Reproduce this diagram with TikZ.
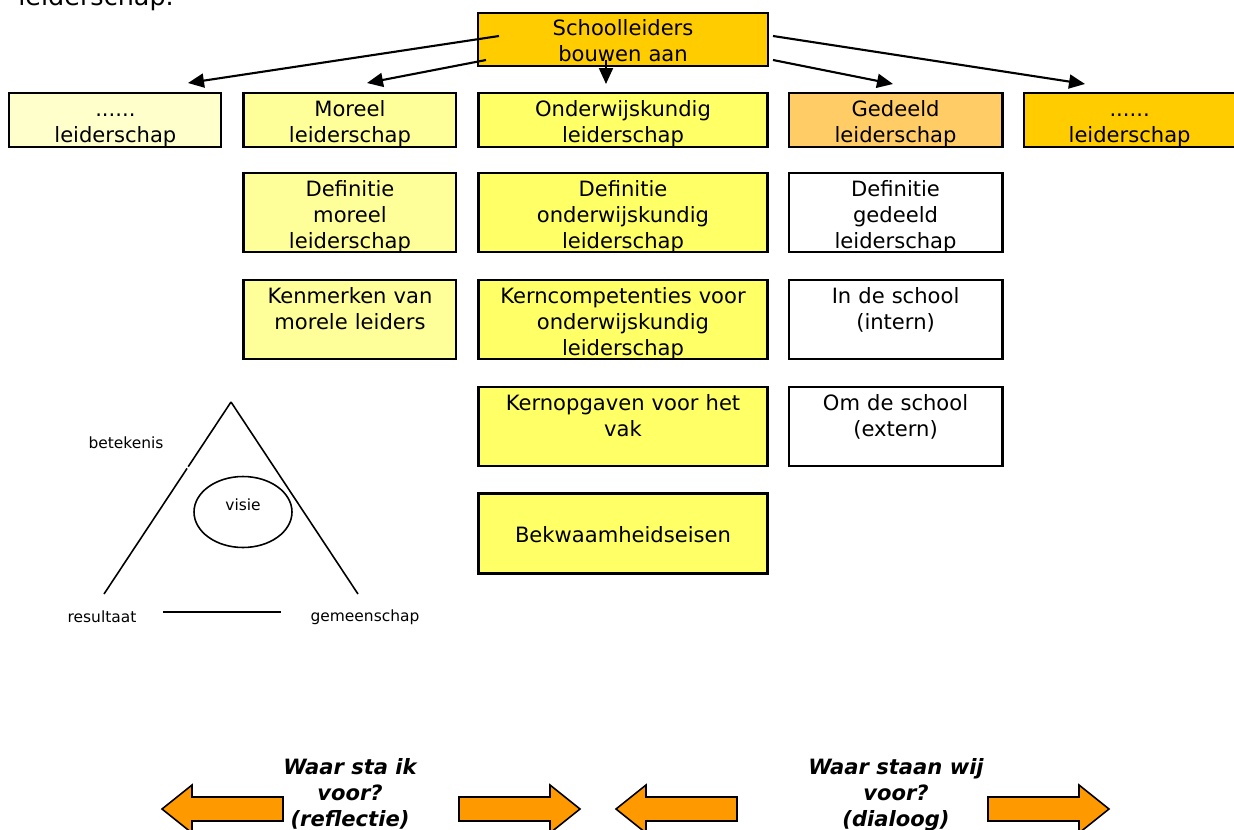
\documentclass[tikz,border=0pt]{standalone}
\usepackage{fontspec}
\setmainfont{DejaVu Sans}
\usepackage{xcolor}
\usepackage{tikz}
\usetikzlibrary{
    positioning,
    arrows.meta,
    calc
}

\definecolor{goud}{HTML}{FFCC00}
\definecolor{lichtgeel}{HTML}{FFFFCC}
\definecolor{zachtgeel}{HTML}{FFFF99}
\definecolor{geel}{HTML}{FFFF66}
\definecolor{perzik}{HTML}{FFCC66}
\definecolor{oranje}{HTML}{FF9900}

\begin{document}
\begin{tikzpicture}[
    x=0.02cm, y=-0.02cm,
    blok/.style={rectangle, draw=black, line width=1.2pt, inner sep=0pt, align=center, font=\fontsize{12}{14.8}\selectfont, text height=0.46cm},
    kop/.style={blok, text depth=0.62cm},
    vak/.style={blok, text depth=1.12cm},
    pijl/.style={-{Triangle[length=0.32cm, width=0.28cm]}, line width=1.2pt},
    dikpijl/.style={draw=black, line width=0.9pt, fill=oranje, line join=miter},
    klein/.style={font=\fontsize{8.8}{10}\selectfont, inner sep=0pt},
    vraag/.style={align=center, inner sep=0pt, font=\fontsize{12}{14.7}\selectfont\bfseries\itshape}
]
\useasboundingbox (0,0) rectangle (1234,829);

\node[anchor=base west, inner sep=0pt, font=\fontsize{14.5}{17}\selectfont] (kopregel) at (18,5) {leiderschap.};

\node[blok, fill=goud, anchor=north, text width=5.8cm, text height=0.44cm, text depth=0.62cm] (school) at (623,12) {Schoolleiders\\bouwen aan};

\node[kop, fill=geel, text width=5.78cm, below=0.5cm of school] (onderwijs) {Onderwijskundig\\leiderschap};
\node[kop, fill=zachtgeel, text width=4.26cm, left=0.4cm of onderwijs] (moreel) {Moreel\\leiderschap};
\node[kop, fill=lichtgeel, text width=4.24cm, left=0.4cm of moreel] (leeg1) {......\\leiderschap};
\node[kop, fill=perzik, text width=4.28cm, right=0.38cm of onderwijs] (gedeeld) {Gedeeld\\leiderschap};
\node[kop, fill=goud, text width=4.24cm, right=0.38cm of gedeeld] (leeg2) {......\\leiderschap};

\node[vak, fill=zachtgeel, text width=4.26cm, below=0.48cm of moreel] (defmoreel) {Definitie\\moreel\\leiderschap};
\node[vak, fill=zachtgeel, text width=4.26cm, below=0.52cm of defmoreel] (kenmerken) {Kenmerken van\\morele leiders};

\node[vak, fill=geel, text width=5.78cm, below=0.48cm of onderwijs] (defonderwijs) {Definitie\\onderwijskundig\\leiderschap};
\node[vak, fill=geel, text width=5.78cm, below=0.52cm of defonderwijs] (kerncomp) {Kerncompetenties voor\\onderwijskundig\\leiderschap};
\node[vak, fill=geel, text width=5.78cm, below=0.52cm of kerncomp] (kernopg) {Kernopgaven voor het\\vak};
\node[blok, fill=geel, text width=5.78cm, text height=0.98cm, text depth=0.62cm, below=0.5cm of kernopg] (bekwaam) {Bekwaamheidseisen};

\node[vak, fill=white, text width=4.28cm, below=0.48cm of gedeeld] (defgedeeld) {Definitie\\gedeeld\\leiderschap};
\node[vak, fill=white, text width=4.28cm, below=0.52cm of defgedeeld] (intern) {In de school\\(intern)};
\node[vak, fill=white, text width=4.28cm, below=0.52cm of intern] (extern) {Om de school\\(extern)};

% pijlen vanuit de kop
\coordinate (s1) at (499,36);
\coordinate (s2) at (486,60);
\coordinate (s3) at (606,60);
\coordinate (s4) at (773,36);
\coordinate (s5) at (773,60);
\coordinate (e1) at (188,83);
\coordinate (e2) at (367,83);
\coordinate (e3) at (606,84);
\coordinate (e4) at (1085,84);
\coordinate (e5) at (893,84);
\draw[pijl] (s1) -- (e1);
\draw[pijl] (s2) -- (e2);
\draw[pijl] (s3) -- (e3);
\draw[pijl] (s4) -- (e4);
\draw[pijl] (s5) -- (e5);

% driehoek
\coordinate (top) at (231,402);
\coordinate (links) at (104,594);
\coordinate (rechts) at (358,594);
\draw[line width=0.9pt] (top) -- ($(top)!0.337!(links)$);
\draw[line width=0.9pt] ($(top)!0.346!(links)$) -- (links);
\draw[line width=0.9pt] (top) -- (rechts);
\draw[line width=0.9pt] (163,612) -- (281,612);
\draw[line width=0.9pt] (243,512) ellipse [x radius=0.98cm, y radius=0.71cm];
\node[klein] (visie) at (243,505) {visie};
\node[klein] (betekenis) at (126,443) {betekenis};
\node[klein] (resultaat) at (102,617) {resultaat};
\node[klein] (gemeenschap) at (365,617) {gemeenschap};

% onderste pijlen
\foreach \tip/\dir in {162/1, 580/-1, 616/1, 1109/-1}
    \draw[dikpijl] (\tip,809) -- ++(30*\dir,-24) -- ++(0,12) -- ++(91*\dir,0) -- ++(0,24) -- ++(-91*\dir,0) -- ++(0,12) -- cycle;

\node[vraag] (reflectie) at (350,794) {Waar sta ik\\voor?\\(reflectie)};
\node[vraag] (dialoog) at (896,795) {Waar staan wij\\voor?\\(dialoog)};

\end{tikzpicture}
\end{document}
